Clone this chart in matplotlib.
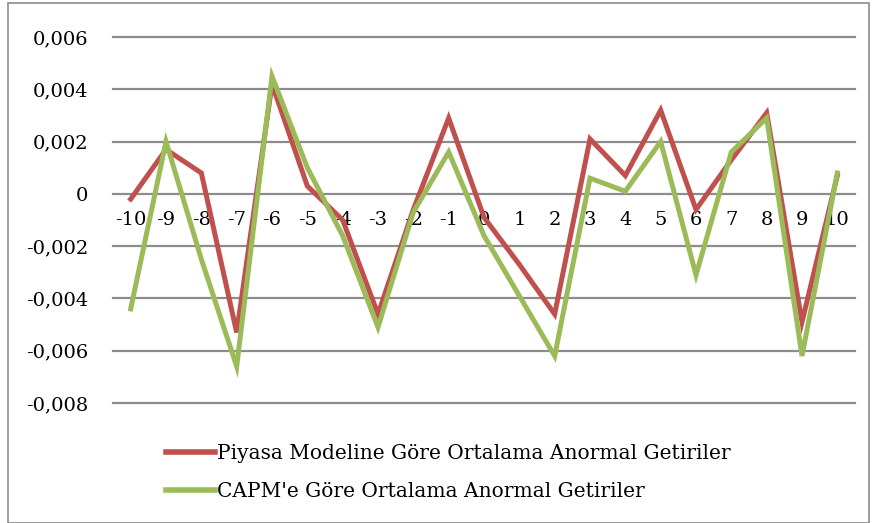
import numpy as np
import matplotlib
matplotlib.use("Agg")
import matplotlib.pyplot as plt
from matplotlib.lines import Line2D
from matplotlib.patches import Rectangle

# event days and average abnormal returns
days = list(range(-10, 11))
piyasa = [-0.0002, 0.0017, 0.0008, -0.0053, 0.0042, 0.0003, -0.0010, -0.0046, -0.0006, 0.0029,
          -0.0009, -0.0027, -0.0046, 0.0021, 0.0007, 0.0032, -0.0006, 0.0013, 0.0031, -0.0049, 0.0007]
capm = [-0.0044, 0.0020, -0.0025, -0.0066, 0.0045, 0.0010, -0.0016, -0.0051, -0.0007, 0.0016,
        -0.0016, -0.0039, -0.0062, 0.0006, 0.0001, 0.0020, -0.0031, 0.0016, 0.0029, -0.0062, 0.0008]
y_ticks = [-0.008, -0.006, -0.004, -0.002, 0, 0.002, 0.004, 0.006]
y_labels = ["-0,008", "-0,006", "-0,004", "-0,002", "0", "0,002", "0,004", "0,006"]
series_names = ["Piyasa Modeline Göre Ortalama Anormal Getiriler",
                "CAPM'e Göre Ortalama Anormal Getiriler"]

red = "#C0504D"
green = "#9BBB59"
serif = ["DejaVu Serif"]

fig = plt.figure(figsize=(8.72, 5.23), dpi=100)
ax = fig.add_axes([0.1296, 0.2294, 0.8509, 0.6998])

ax.plot(days, piyasa, color=red, lw=3.6, solid_joinstyle="miter", zorder=3)
ax.plot(days, capm, color=green, lw=3.6, solid_joinstyle="miter", zorder=4)

ax.set_xlim(-10.5, 10.5)
ax.set_ylim(-0.008, 0.006)

# x axis sits on the zero line
ax.spines["bottom"].set_position(("data", 0))
for s in ax.spines.values():
    s.set_visible(False)

ax.set_yticks(y_ticks)
ax.set_yticklabels(y_labels, fontfamily=serif, fontsize=14)
ax.set_xticks(days)
ax.set_xticklabels([str(d) for d in days], fontfamily=serif, fontsize=14)
ax.yaxis.grid(True, color="#8c8c8c", lw=1.6)
for gl in ax.get_ygridlines():
    gl.set_clip_on(False)
ax.set_axisbelow(True)
ax.tick_params(axis="both", length=0)
ax.tick_params(axis="x", pad=12)
ax.tick_params(axis="y", pad=18)

handles = [Line2D([], [], color=red, lw=4), Line2D([], [], color=green, lw=4)]
fig.legend(handles, series_names, loc="upper left", bbox_to_anchor=(0.17, 0.186),
           frameon=False, handlelength=2.4, handletextpad=0.1, labelspacing=0.95,
           prop={"family": serif, "size": 14.5})

fig.patches.append(Rectangle((0.009, 0.0), 0.988, 0.995, transform=fig.transFigure,
                             fill=False, edgecolor="#8c8c8c", lw=1.2))

fig.savefig("out.png", dpi=100)
